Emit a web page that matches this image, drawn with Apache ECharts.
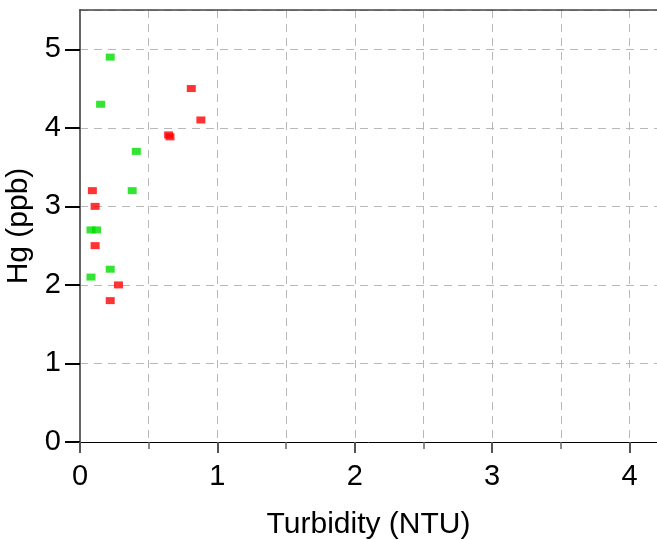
<!DOCTYPE html>
<html>
<head>
<meta charset="utf-8">
<script src="https://cdn.jsdelivr.net/npm/echarts@6/dist/echarts.min.js"></script>
<style>
  html, body { margin: 0; padding: 0; background: #fff; }
  #chart { width: 657px; height: 540px; }
</style>
</head>
<body>
<div id="chart"></div>
<script>
// Turbidity (NTU) vs mercury concentration (ppb)
const greenTurbidity = [0.22, 0.15, 0.41, 0.38, 0.08, 0.12, 0.22, 0.08];
const greenHg        = [4.9,  4.3,  3.7,  3.2,  2.7,  2.7,  2.2,  2.1];

const redTurbidity = [0.81, 0.88, 0.645, 0.655, 0.09, 0.11, 0.11, 0.28, 0.22];
const redHg        = [4.5,  4.1,  3.91,  3.885, 3.2,  3.0,  2.5,  2.0,  1.8];

const xTicks = [0, 1, 2, 3, 4];
const xMinorTicks = [0.5, 1.5, 2.5, 3.5];
const yTicks = [0, 1, 2, 3, 4, 5];

const pairs = (xs, ys) => xs.map((x, i) => [x, ys[i]]);

const FONT = 'Liberation Sans, Arial, sans-serif';
const gridDash = { color: '#b8b8b8', width: 1, type: [8, 6] };

const chart = echarts.init(document.getElementById('chart'), null, { renderer: 'canvas' });
chart.setOption({
  animation: false,
  grid: { left: 80, top: 10, right: 0, bottom: 98, containLabel: false, outerBoundsMode: 'none' },
  xAxis: [{
    type: 'value',
    min: 0,
    max: 4.2,
    interval: 0.5,
    name: 'Turbidity (NTU)',
    nameLocation: 'middle',
    nameGap: 68,
    nameTextStyle: { fontFamily: FONT, fontSize: 30, color: '#000' },
    axisLine: { show: true, onZero: false, lineStyle: { color: '#000', width: 1 } },
    axisTick: { show: false },
    axisLabel: {
      fontFamily: FONT, fontSize: 29, color: '#000', margin: 20,
      formatter: v => (xTicks.includes(v) ? String(v) : '')
    },
    splitLine: { show: true, lineStyle: gridDash }
  }, {
    // whole-unit ticks
    type: 'value',
    position: 'bottom',
    offset: 0,
    min: 0,
    max: 4.2,
    axisLine: { show: false },
    axisTick: { show: true, length: 11, customValues: xTicks, lineStyle: { color: '#555', width: 2 } },
    axisLabel: { show: false },
    splitLine: { show: false }
  }, {
    // half-unit ticks
    type: 'value',
    position: 'bottom',
    offset: 0,
    min: 0,
    max: 4.2,
    axisLine: { show: false },
    axisTick: { show: true, length: 7, customValues: xMinorTicks, lineStyle: { color: '#666', width: 1.5 } },
    axisLabel: { show: false },
    splitLine: { show: false }
  }, {
    // frame line along the top
    type: 'value',
    position: 'top',
    min: 0,
    max: 4.2,
    axisLine: { show: true, lineStyle: { color: '#444', width: 1.5 } },
    axisTick: { show: false },
    axisLabel: { show: false },
    splitLine: { show: false }
  }],
  yAxis: [{
    type: 'value',
    min: 0,
    max: 5.5,
    interval: 1,
    name: 'Hg (ppb)',
    nameLocation: 'middle',
    nameGap: 37,
    nameTextStyle: { fontFamily: FONT, fontSize: 30, color: '#000' },
    axisLine: { show: true, onZero: false, lineStyle: { color: '#666', width: 2 } },
    axisTick: { show: false },
    axisLabel: {
      fontFamily: FONT, fontSize: 29, color: '#000', margin: 19,
      formatter: v => (yTicks.includes(v) ? String(v) : '')
    },
    splitLine: { show: true, lineStyle: gridDash }
  }, {
    // ticks on the left axis
    type: 'value',
    position: 'left',
    offset: 0,
    min: 0,
    max: 5.5,
    axisLine: { show: false },
    axisTick: { show: true, length: 15, customValues: yTicks, lineStyle: { color: '#000', width: 2 } },
    axisLabel: { show: false },
    splitLine: { show: false }
  }],
  series: [{
    type: 'scatter',
    symbol: 'rect',
    symbolSize: [9, 7],
    itemStyle: { color: '#00dd00' },
    data: pairs(greenTurbidity, greenHg)
  }, {
    type: 'scatter',
    symbol: 'rect',
    symbolSize: [9, 7],
    itemStyle: { color: '#ff0000' },
    data: pairs(redTurbidity, redHg)
  }]
});
</script>
</body>
</html>
